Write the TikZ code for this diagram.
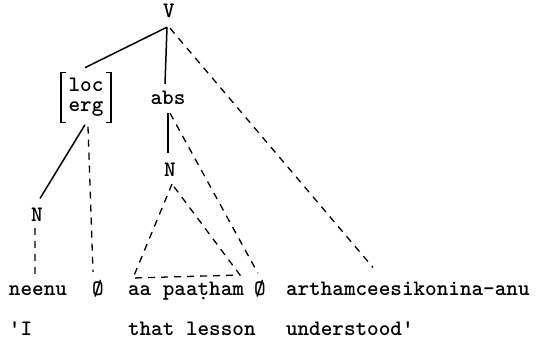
\documentclass[tikz,border=0pt]{standalone}
\usetikzlibrary{calc}
\begin{document}
\begin{tikzpicture}[x=1pt,y=-1pt,
  lbl/.style={inner sep=0pt,outer sep=0pt,font={\fontsize{22.1}{20}\selectfont\ttfamily\bfseries}},
  solidln/.style={line width=1.5pt},
  dashln/.style={line width=1.3pt,dash pattern=on 7pt off 6pt},
  brk/.style={line width=1.5pt}]
\useasboundingbox (0,0) rectangle (539,350);
% tree labels
\node[lbl,anchor=base] (V) at (169,18) {V};
\node[lbl,align=center,inner xsep=7.5pt,inner ysep=5.8pt] (le) at (86,97.7) {loc\\erg};
\draw[brk] ($(le.north west)+(5,0)$) -- (le.north west) -- (le.south west) -- ($(le.south west)+(5,0)$);
\draw[brk] ($(le.north east)+(-5,0)$) -- (le.north east) -- (le.south east) -- ($(le.south east)+(-5,0)$);
\node[lbl,anchor=base] (abs) at (168,105) {abs};
\node[lbl,anchor=base] (Nl) at (37,222) {N};
\node[lbl,anchor=base] (Nm) at (170,177) {N};
% row 1
\node[lbl,anchor=base west] (neenu) at (9,295) {neenu};
\node[lbl,anchor=base west] (z1) at (92,295) {Ø};
\node[lbl,anchor=base west] (aa) at (128,295) {aa paa\d{t}ham};
\node[lbl,anchor=base west] (z2) at (254,295) {Ø};
\node[lbl,anchor=base west] (art) at (286,295) {arthamceesikonina-anu};
% row 2
\node[lbl,anchor=base west] (g1) at (9,336) {'I};
\node[lbl,anchor=base west] (g2) at (128,336) {that lesson};
\node[lbl,anchor=base west] (g3) at (286,336) {understood'};
% connectors
\draw[solidln] ($(V.south)+(-2,9)$) -- ($(le.north)+(-1,-5)$);
\draw[solidln] ($(V.south)+(-2,9)$) -- ($(abs.north)+(-3,-7.5)$);
\coordinate (artend) at ($(art.north west)+(87,-14)$);
\draw[dashln] ($(V.south)+(1,10)$) -- (artend);
\draw[solidln] ($(le.south)+(-1,2)$) -- ($(Nl.north)+(3,-10)$);
\draw[dashln] ($(le.south)+(2,4)$) -- ($(z1.base)+(-4.8,-23)$);
\draw[dashln] ($(Nl.south)+(-2,6)$) -- ($(neenu.base)+(-3,-17)$);
\draw[solidln] ($(abs.south)+(0,8)$) -- ($(Nm.north)+(-2,-10)$);
\draw[dashln] ($(abs.south)+(2,8)$) -- ($(z2.base)+(-2,-22)$);
\coordinate (tA) at ($(Nm.south)+(2,7)$);
\coordinate (tL) at ($(aa.base west)+(5,-17)$);
\coordinate (tR) at ($(aa.base west)+(112,-20)$);
\draw[dashln] (tA) -- (tL) -- (tR) -- cycle;
\end{tikzpicture}
\end{document}
